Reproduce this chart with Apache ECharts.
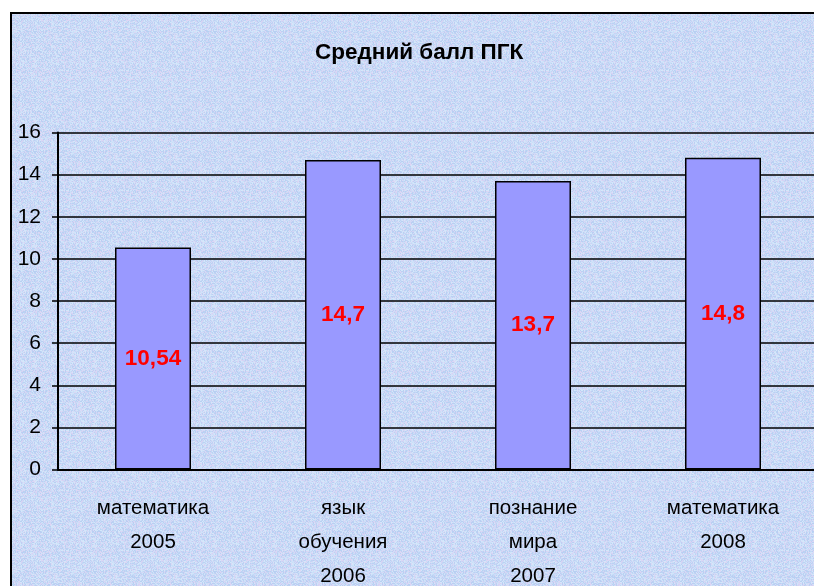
<!DOCTYPE html>
<html>
<head>
<meta charset="utf-8">
<script src="https://cdn.jsdelivr.net/npm/echarts@6/dist/echarts.min.js"></script>
<style>
  html, body { margin: 0; padding: 0; background: #ffffff; }
  #chart { width: 814px; height: 586px; }
</style>
</head>
<body>
<div id="chart"></div>
<script>
// Subjects and years on the category axis
const categories = ['математика\n2005', 'язык\nобучения\n2006', 'познание\nмира\n2007', 'математика\n2008'];
// Average score per test
const scores = [10.54, 14.7, 13.7, 14.8];
// Value axis ticks
const yMin = 0;
const yMax = 16;
const yStep = 2;

const FONT = "'Liberation Sans', Arial, sans-serif";

// Speckled light-blue paper texture for the chart area
function makeTexture() {
  const c = document.createElement('canvas');
  c.width = 60; c.height = 60;
  const g = c.getContext('2d');
  g.fillStyle = '#c6d9f6';
  g.fillRect(0, 0, 60, 60);
  const tones = ['#bcd1f3', '#d1e3f9', '#d5d3f4', '#c2d7f5', '#cbdef8', '#dbd7f5', '#b9cff2', '#d4e7fa'];
  let s = 24680;
  const next = () => { s = (s * 1103515245 + 12345) & 0x7fffffff; return s / 0x7fffffff; };
  for (let y = 0; y < 60; y++) {
    for (let x = 0; x < 60; x++) {
      g.fillStyle = tones[Math.floor(next() * tones.length)];
      g.fillRect(x, y, 1, 1);
    }
  }
  return c;
}

const chart = echarts.init(document.getElementById('chart'), null, { renderer: 'canvas' });

chart.setOption({
  backgroundColor: '#ffffff',
  animation: false,
  title: {
    text: 'Средний балл ПГК',
    left: 310,
    top: 36,
    textStyle: { fontFamily: FONT, fontSize: 22.5, fontWeight: 'bold', color: '#000' }
  },
  graphic: [
    {
      type: 'rect',
      z: -100,
      silent: true,
      shape: { x: 11, y: 13, width: 830, height: 600 },
      style: { fill: { image: makeTexture(), repeat: 'repeat' }, stroke: '#000', lineWidth: 2 }
    }
  ],
  grid: {
    left: 58, right: -4, top: 132.5, bottom: 116.5,
    containLabel: false,
    outerBoundsMode: 'none'
  },
  xAxis: {
    type: 'category',
    data: categories,
    axisLine: { lineStyle: { color: '#000', width: 2 } },
    axisTick: { length: 8, lineStyle: { color: '#000', width: 1.5 } },
    axisLabel: {
      margin: 22,
      interval: 0,
      fontFamily: FONT,
      fontSize: 20.5,
      lineHeight: 34,
      color: '#000'
    }
  },
  yAxis: {
    type: 'value',
    min: yMin,
    max: yMax,
    interval: yStep,
    axisLine: { show: true, lineStyle: { color: '#000', width: 2 } },
    axisTick: { show: true, length: 6, lineStyle: { color: '#000', width: 1.5 } },
    axisLabel: { margin: 17, fontFamily: FONT, fontSize: 21, color: '#000' },
    splitLine: { show: true, lineStyle: { color: '#000', width: 1.6 } }
  },
  series: [
    {
      type: 'bar',
      data: scores,
      barWidth: '40%',
      itemStyle: { color: '#9999ff', borderColor: '#000', borderWidth: 1.5 },
      label: {
        show: true,
        position: 'inside',
        fontFamily: FONT,
        fontSize: 22.5,
        fontWeight: 'bold',
        color: '#ff0000',
        formatter: p => String(p.value).replace('.', ',')
      }
    }
  ]
});
</script>
</body>
</html>
